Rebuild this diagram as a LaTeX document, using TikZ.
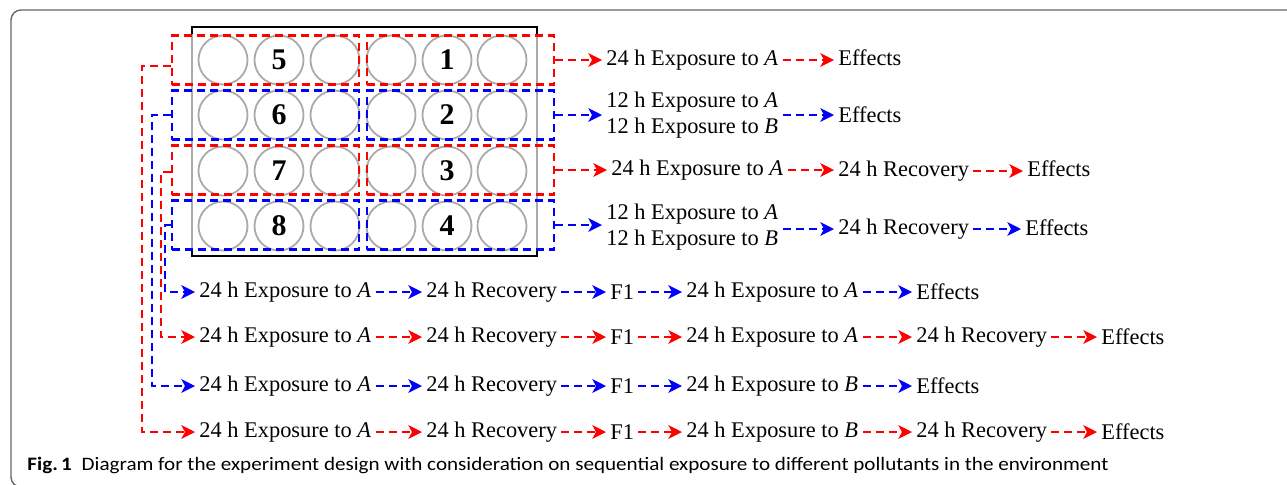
\documentclass[tikz,border=0pt]{standalone}
\usepackage{fontspec}
\setmainfont{Liberation Serif}
\newfontfamily\capfont[FakeStretch=1.11]{Carlito}
\usetikzlibrary{arrows.meta}

\definecolor{exred}{RGB}{255,0,0}
\definecolor{exblue}{RGB}{0,0,255}
\definecolor{wellgray}{RGB}{170,170,170}

\begin{document}
\begin{tikzpicture}[x=0.5pt,y=-0.5pt,
    well/.style={circle,draw=wellgray,line width=0.9pt,minimum size=24.5pt,inner sep=0pt},
    num/.style={font=\fontsize{15}{15}\selectfont\bfseries,inner sep=0pt},
    grp/.style={draw=#1,dash pattern=on 4pt off 2.5pt,line width=1.1pt,minimum width=93.5pt,minimum height=24.5pt,inner sep=0pt},
    flow/.style={draw=#1,dash pattern=on 4pt off 2.5pt,line width=1.1pt,-{Stealth[length=6.8pt,width=6.8pt,inset=1.8pt]}},
    stage/.style={font=\fontsize{11.2}{13}\selectfont,inner xsep=2pt,inner ysep=0pt,anchor=west,align=left},
]
    \useasboundingbox (0,0) rectangle (1287,484);
    \draw[line width=0.7pt,draw=black!60,rounded corners=5pt] (11,10) rectangle (1320,487);

    % plate
    \draw[line width=1.3pt] (192,27) rectangle (537,256);
    \draw[wellgray,line width=1.1pt] (192,34) -- (192,250) (537,34) -- (537,250);
    \foreach \r/\y in {1/60,2/115,3/171,4/226}
        \foreach \c/\x in {1/223,2/279,3/335,4/391,5/447,6/502}
            \node[well] (w\r\c) at (\x,\y) {};
    \foreach \r/\a/\b in {1/5/1,2/6/2,3/7/3,4/8/4}{
        \node[num] (n\a) at (w\r2) {\a};
        \node[num] (n\b) at (w\r5) {\b};
    }
    \foreach \r/\y/\col in {1/60/exred,2/115/exblue,3/170/exred,4/225/exblue}{
        \node[grp=\col] (L\r) at (265.5,\y) {};
        \node[grp=\col] (R\r) at (460.5,\y) {};
    }

    % right side
    \node[stage] (a1) at (602,60) {24 h Exposure to \textit{A}};
    \node[stage] (e1) at (834,58) {Effects};
    \node[stage] (a2) at (602,115) {12 h Exposure to \textit{A}\\12 h Exposure to \textit{B}};
    \node[stage] (e2) at (834,115) {Effects};
    \node[stage] (a3) at (607,170) {24 h Exposure to \textit{A}};
    \node[stage] (r3) at (834,171) {24 h Recovery};
    \node[stage] (e3) at (1023,169) {Effects};
    \node[stage] (a4) at (602,227) {12 h Exposure to \textit{A}\\12 h Exposure to \textit{B}};
    \node[stage] (r4) at (834,229) {24 h Recovery};
    \node[stage] (e4) at (1021,228) {Effects};

    \draw[flow=exred] (R1.east) -- (a1.west);
    \draw[flow=exred] (a1.east) -- (a1.east-|e1.west);
    \draw[flow=exblue] (R2.east) -- (a2.west);
    \draw[flow=exblue] (a2.east) -- (e2.west);
    \draw[flow=exred] (R3.east) -- (a3.west);
    \draw[flow=exred] (a3.east) -- (a3.east-|r3.west);
    \draw[flow=exred] (r3.east) -- (r3.east-|e3.west);
    \draw[flow=exblue] (R4.east) -- (a4.west|-R4.east);
    \draw[flow=exblue] (a4.east|-r4.west) -- (r4.west);
    \draw[flow=exblue] (r4.east) -- (r4.east-|e4.west);

    % bottom rows
    \foreach \r/\y/\col/\p/\last in {5/292/exblue/A/0,6/337/exred/A/1,7/386/exblue/B/0,8/432/exred/B/1}{
        \node[stage] (a\r) at (195,\y) {24 h Exposure to \textit{A}};
        \node[stage] (r\r) at (422,\y) {24 h Recovery};
        \node[stage] (f\r) at (606,\y) {F1};
        \node[stage] (b\r) at (682,\y) {24 h Exposure to \textit{\p}};
        \draw[flow=\col] (a\r.east) -- (r\r.west);
        \draw[flow=\col] (r\r.east) -- (f\r.west);
        \draw[flow=\col] (f\r.east) -- (b\r.west);
        \ifnum\last=1
            \node[stage] (s\r) at (912,\y) {24 h Recovery};
            \node[stage] (e\r) at (1097,\y) {Effects};
            \draw[flow=\col] (b\r.east) -- (s\r.west);
            \draw[flow=\col] (s\r.east) -- (e\r.west);
        \else
            \node[stage] (e\r) at (912,\y) {Effects};
            \draw[flow=\col] (b\r.east) -- (e\r.west);
        \fi
    }
    \draw[flow=exred] ([yshift=-3pt]L1.west) -- ++(-29,0) |- (a8.west);
    \draw[flow=exblue] (L2.west) -- ++(-19,0) |- (a7.west);
    \draw[flow=exred] ([yshift=-1pt]L3.west) -- ++(-10,0) |- (a6.west);
    \draw[flow=exblue] (L4.west) -- ++(-6,0) |- (a5.west);

    % caption
    \node[anchor=base west,inner sep=0pt,font=\capfont\fontsize{9.5}{11}\selectfont] (cap) at (27,470)
        {\textbf{Fig.\,1}\hspace{5pt}Diagram for the experiment design with consideration on sequential exposure to different pollutants in the environment};
\end{tikzpicture}
\end{document}
